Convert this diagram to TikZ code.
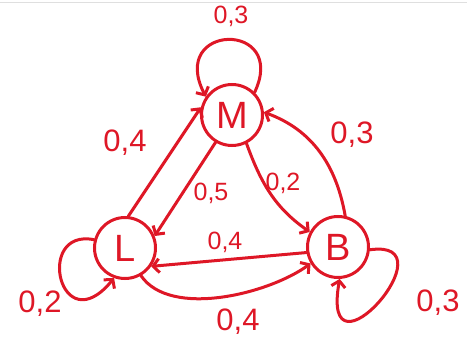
\documentclass[tikz,border=0pt]{standalone}
\usepackage{fontspec}
\setmainfont{Liberation Sans}
\usetikzlibrary{arrows.meta}
\definecolor{handred}{RGB}{222,23,38}
\tikzset{
  state/.style={circle, draw=handred, line width=3pt, minimum size=61pt, inner sep=0pt, text=handred, font=\fontsize{38}{38}\selectfont},
  edge/.style={draw=handred, line width=3pt, line cap=round, -{Straight Barb[length=6pt,width=14pt,line width=3pt]}},
  prob/.style={text=handred, inner sep=0pt, font=\fontsize{31}{31}\selectfont},
  probsmall/.style={text=handred, inner sep=0pt, font=\fontsize{25}{25}\selectfont}
}
\begin{document}
\begin{tikzpicture}[x=1pt,y=1pt]
\useasboundingbox (0,0) rectangle (467,338);
\draw[gray!25, line width=1pt] (0,335) -- (467,335);
\node[state] (M) at (232,223) {M};
\node[state] (L) at (125,90) {L};
\node[state] (B) at (338,91) {B};
% self loops
\draw[edge] (M.45) .. controls +(34,72) and +(-38,74) .. (M.145);
\draw[edge] (L.165) .. controls +(-60,12) and +(-54,-66) .. (L.250);
\draw[edge] (B.355) .. controls +(84,12) and +(-20,-112) .. (B.273);
% edges
\draw[edge] (L.84) -- (M.166);
\draw[edge] (M.239) -- (L.22);
\draw[edge] (M.297) to[out=-70,in=145] (B.152);
\draw[edge] (B.77) to[out=100,in=-20] (M.5);
\draw[edge] (B.190) -- (L.325);
\draw[edge] (L.300) .. controls +(29.5,-43) and +(-41,-30) .. (B.211);
% labels
\node[probsmall] (lMM) at (231,322) {0,3};
\node[prob] (lLM) at (125,195) {0,4};
\node[probsmall] (lML) at (211,145) {0,5};
\node[probsmall] (lMB) at (283,155) {0,2};
\node[prob] (lBM) at (352,203) {0,3};
\node[probsmall] (lBL) at (225,96) {0,4};
\node[prob] (lLB) at (238,16) {0,4};
\node[prob] (lLL) at (40,34) {0,2};
\node[prob] (lBB) at (438,35) {0,3};
\end{tikzpicture}
\end{document}
